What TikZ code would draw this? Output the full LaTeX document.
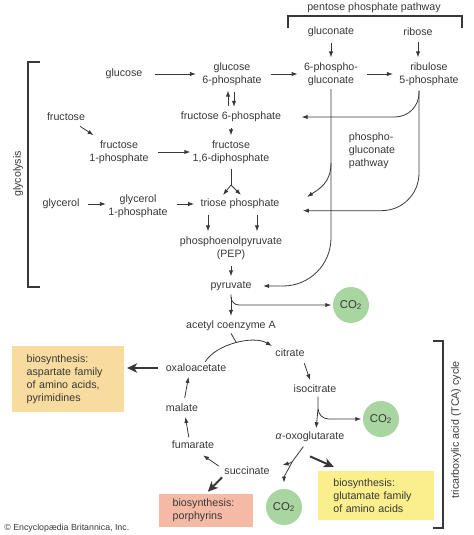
\documentclass[tikz,border=0pt]{standalone}
\usepackage{fontspec}
\setmainfont{Liberation Sans}
\usetikzlibrary{arrows.meta}
\definecolor{ink}{HTML}{383838}
\definecolor{co2green}{HTML}{A9D5A0}
\definecolor{aspfill}{HTML}{F8DB9E}
\definecolor{glufill}{HTML}{FAEF8C}
\definecolor{porfill}{HTML}{F5BAA6}
\hyphenpenalty=10000
\begin{document}
\begin{tikzpicture}[x=0.75pt,y=-0.75pt,color=ink,line width=0.6pt,
    >={Latex[length=4.5pt,width=3.2pt]},
    met/.style={font=\fontsize{8}{9.75}\selectfont, align=center, inner sep=1.5pt},
    co2/.style={circle, fill=co2green, minimum size=27pt, inner sep=0pt, font=\fontsize{8.5}{10}\selectfont},
    biobox/.style={fill=#1, font=\fontsize{8}{9.75}\selectfont, align=left, inner ysep=0pt},
    hlink/.style={->, shorten <=5pt, shorten >=3pt},
    vlink/.style={->, shorten <=3pt, shorten >=2pt},
    bigarr/.style={-{Stealth[length=7.5pt,width=7pt,inset=2pt]}, line width=1.5pt, shorten <=3pt, shorten >=2pt}]
  \useasboundingbox (0,0) rectangle (474,535);

  \node[met] (pent) at (374,8) {pentose phosphate pathway};
  \node[met] (glcn) at (331,32) {gluconate};
  \node[met] (rib) at (418,32) {ribose};
  \node[met] (glc) at (124,74) {glucose};
  \node[met] (g6p) at (232,74) {glucose\\6-phosphate};
  \node[met] (pg) at (331,74) {6-phospho-\\gluconate};
  \node[met] (ru5p) at (429,74) {ribulose\\5-phosphate};
  \node[met] (fru) at (66,117) {fructose};
  \node[met] (f6p) at (231,117) {fructose 6-phosphate};
  \node[met] (f1p) at (119,152) {fructose\\1-phosphate};
  \node[met] (f16) at (231,152) {fructose\\1,6-diphosphate};
  \node[met, align=left] (ppath) at (372,151) {phospho-\\gluconate\\pathway};
  \node[met] (gly) at (61,204) {glycerol};
  \node[met] (g1p) at (138,206) {glycerol\\1-phosphate};
  \node[met] (tri) at (240,204) {triose phosphate};
  \node[met] (pep) at (231,248) {phosphoenolpyruvate\\(PEP)};
  \node[met] (pyr) at (231,286) {pyruvate};
  \node[co2] (co2a) at (351,305) {CO\textsubscript{2}};
  \node[met] (acoa) at (231,326) {acetyl coenzyme A};
  \node[met] (cit) at (290,353) {citrate};
  \node[met] (iso) at (315,389) {isocitrate};
  \node[co2] (co2b) at (381,419) {CO\textsubscript{2}};
  \node[met] (aog) at (310,437) {\textit{α}-oxoglutarate};
  \node[met] (succ) at (247,471) {succinate};
  \node[co2] (co2c) at (284,507) {CO\textsubscript{2}};
  \node[met] (fum) at (193,445) {fumarate};
  \node[met] (mal) at (182,408) {malate};
  \node[met] (oaa) at (196,368) {oxaloacetate};
  \node[biobox=aspfill, text width=62pt, inner xsep=11pt, minimum height=49.5pt] (asp) at (68,379)
    {biosynthesis:\\aspartate family\\of amino acids,\\pyrimidines};
  \node[biobox=glufill, text width=64pt, inner xsep=11.5pt, minimum height=36.75pt] (glu) at (376,495.5)
    {biosynthesis:\\glutamate family\\of amino acids};
  \node[biobox=porfill, text width=50pt, inner xsep=10.25pt, minimum height=24.75pt] (por) at (206,510.5)
    {biosynthesis:\\porphyrins};
  \node[met, rotate=90] (glylab) at (18,174) {glycolysis};
  \node[met, rotate=90] (tcalab) at (456,430) {tricarboxylic acid (TCA) cycle};
  \node[anchor=west, font=\fontsize{6.6}{7.5}\selectfont, inner sep=0pt] (copy) at (4,528)
    {© Encyclopædia Britannica, Inc.};

  \draw[line width=0.8pt] (288,28) -- (288,16) -- (462,16) -- (462,28);
  \draw[line width=0.8pt] (40,62) -- (28,62) -- (28,287) -- (40,287);
  \draw[line width=0.8pt] (433,341) -- (443,341) -- (443,528) -- (433,528);

  \draw[vlink] (glcn) -- (pg);
  \draw[vlink] (rib.south) -- (rib.south |- ru5p.north);
  \draw[hlink, shorten <=8pt] (glc) -- (g6p);
  \draw[hlink] (g6p) -- (pg);
  \draw[hlink] (pg) -- (ru5p);
  \draw[vlink] ([xshift=-3pt]g6p.south |- f6p.north) -- ([xshift=-3pt]g6p.south);
  \draw[vlink] ([xshift=1.5pt]g6p.south) -- ([xshift=1.5pt]g6p.south |- f6p.north);
  \draw[vlink] (f6p) -- (f16);
  \draw[->, shorten <=4pt, shorten >=4pt] (fru) -- (f1p);
  \draw[hlink, shorten >=0pt] (f1p) -- (f16);
  \coordinate (fork) at (231,185);
  \coordinate (forkL) at (223,195);
  \coordinate (forkR) at (241,195);
  \draw[shorten <=2pt] (f16.south) -- (fork);
  \foreach \side in {forkL,forkR}
    \draw[->] (fork) -- (\side);
  \draw[hlink, shorten >=0pt] (gly.east) -- (gly.east -| g1p.west);
  \draw[hlink] (g1p.east |- tri.west) -- (tri.west);
  \foreach \dx in {-24,12.75}
    \draw[vlink] ([xshift=\dx pt]tri.south) -- ([xshift=\dx pt]tri.south |- pep.north);
  \draw[vlink] (pep) -- (pyr);
  \draw[vlink] (pyr) -- (acoa);
  \draw[->, rounded corners=6pt, shorten <=1pt, shorten >=1pt] (pyr.south) |- (co2a.west);

  \coordinate (rutop) at ([xshift=-7.5pt,yshift=-2pt]ru5p.south);
  \draw[->, rounded corners=18pt, shorten >=13.5pt] (rutop) |- (f6p.east);
  \draw[->, rounded corners=28pt, shorten >=15.75pt] (rutop) |- ([yshift=-5pt]tri.east);
  \draw[->, rounded corners=36pt, shorten <=1pt, shorten >=7pt] (pg.south) |- (pyr.east);
  \coordinate (pgbr) at (331,163);
  \coordinate (pgtri) at (307,197);
  \draw[->] (pgbr) .. controls +(0,20) and +(12,-8) .. (pgtri);

  \coordinate (join) at (236,342);
  \draw[->, shorten >=1pt] ([xshift=7pt]oaa.north) .. controls +(10,-17) and +(-20,-12) .. (cit.north west);
  \draw (acoa.south) -- (join);
  \draw[vlink] ([xshift=-3pt]cit.south east) -- ([xshift=-3pt]iso.north);
  \coordinate (isofork) at (318,409);
  \draw[->, rounded corners=8pt, shorten <=1pt, shorten >=1pt] ([xshift=2.25pt]iso.south) |- (co2b.west);
  \draw[->, shorten >=1pt] (isofork) -- ([xshift=4.5pt]aog.north);
  \coordinate (aogfork) at (292,462);
  \draw[shorten <=2pt] ([xshift=-3.75pt]aog.south) -- (aogfork);
  \draw[->] (aogfork) .. controls +(-4,2) and +(4,-1) .. ([xshift=8pt,yshift=4.5pt]succ.east);
  \draw[->] (aogfork) .. controls +(-4,8) and +(0,-6) .. ([yshift=4.5pt]co2c.north);
  \draw[bigarr, shorten <=0pt] ([yshift=-9pt]aog.south) -- ([xshift=14pt,yshift=2pt]glu.north west);
  \draw[vlink, shorten >=0pt] ([yshift=2pt]succ.west) -- ([xshift=-10pt,yshift=-3pt]fum.south east);
  \draw[vlink, shorten <=1pt] ([xshift=-3pt]fum.north) -- ([xshift=2.25pt]mal.south);
  \draw[vlink] ([xshift=1.5pt]mal.north) -- ([xshift=-5.25pt]oaa.south);
  \draw[bigarr, shorten <=4pt] (oaa.west) -- (oaa.west -| asp.east);
  \draw[bigarr, shorten <=0pt] (succ.south west) -- (por.north);
\end{tikzpicture}
\end{document}
